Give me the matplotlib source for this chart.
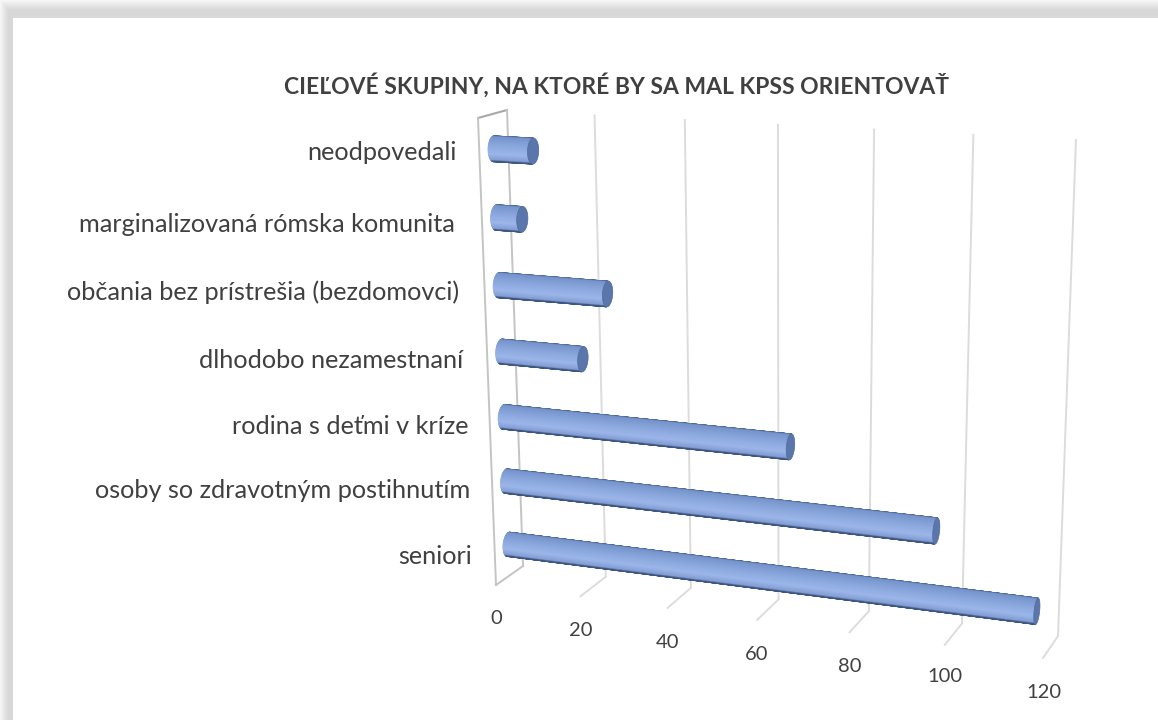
import numpy as np
import matplotlib
matplotlib.use("Agg")
import matplotlib.pyplot as plt
from matplotlib.transforms import Transform
from matplotlib.colors import LinearSegmentedColormap

categories = ["seniori", "osoby so zdravotným postihnutím", "rodina s deťmi v kríze",
              "dlhodobo nezamestnaní", "občania bez prístrešia (bezdomovci)",
              "marginalizovaná rómska komunita", "neodpovedali"]
values = [117, 96, 65, 19, 25, 6, 9]
ticks = [0, 20, 40, 60, 80, 100, 120]
title = "CIEĽOVÉ SKUPINY, NA KTORÉ BY SA MAL KPSS ORIENTOVAŤ"

plt.rcParams['font.family'] = ['Lato', 'DejaVu Sans']
W, H = 1158, 720
fig = plt.figure(figsize=(W/100, H/100), dpi=100)
ax = fig.add_axes([0, 0, 1, 1])
ax.set_xlim(0, W); ax.set_ylim(H, 0); ax.axis('off')

def homography(src, dst):
    A = []
    for (x, y), (u, v) in zip(src, dst):
        A.append([x, y, 1, 0, 0, 0, -u*x, -u*y, -u])
        A.append([0, 0, 0, x, y, 1, -v*x, -v*y, -v])
    return np.linalg.svd(np.array(A, float))[2][-1].reshape(3, 3)

VMAX = ticks[-1]
unit = [(0, 0), (VMAX, 0), (0, 1), (VMAX, 1)]
HB = homography(unit, [(523, 566), (1058, 636), (507, 110), (1076, 139)])
HF = homography(unit, [(496, 585), (1043, 658), (478, 118), (1060, 149)])

class Box(Transform):
    """(value, category height) -> pixel on a plane at a given depth (0 back, 1 front)."""
    input_dims = output_dims = 2
    def __init__(self, depth):
        super().__init__()
        self.d = depth
    def transform_non_affine(self, xy):
        xy = np.asarray(xy, float)
        p = np.c_[xy, np.ones(len(xy))]
        b = p @ HB.T; f = p @ HF.T
        b = b[:, :2]/b[:, 2:]; f = f[:, :2]/f[:, 2:]
        d = np.broadcast_to(self.d, (len(xy),)).reshape(-1, 1)
        return b*(1-d) + f*d

back, front = Box(0.0), Box(1.0)
grid = "#dcdcdc"
wall = "#c4c4c4"
for t in ticks[1:]:
    ax.plot([t, t], [1, 0], color=grid, lw=1.4, transform=back + ax.transData, solid_capstyle='butt')
    a = back.transform([[t, 0]])[0]; b = front.transform([[t, 0]])[0]
    ax.plot([a[0], b[0]], [a[1], b[1]], color=grid, lw=1.4)

# left wall
corners = np.array([front.transform([[0, 1]])[0], back.transform([[0, 1]])[0],
                    back.transform([[0, 0]])[0], front.transform([[0, 0]])[0]])
ax.plot(corners[[0, 1]][:, 0], corners[[0, 1]][:, 1], color="#a8a8a8", lw=1.5)
ax.plot(corners[[1, 2]][:, 0], corners[[1, 2]][:, 1], color=wall, lw=1.4)
ax.plot(corners[[2, 3]][:, 0], corners[[2, 3]][:, 1], color=wall, lw=1.4)
ax.plot(corners[[3, 0]][:, 0], corners[[3, 0]][:, 1], color=wall, lw=1.4)

# cylinders
cmap = LinearSegmentedColormap.from_list("cyl", [(0, "#4a6590"), (0.05, "#7694cc"), (0.35, "#89a6dc"),
                                                 (0.72, "#9cb6ea"), (0.94, "#839ed4"), (1, "#3e5680")])
n = len(categories)
RH, RD = 0.0265, 0.2
NS = 120
t2 = np.linspace(0, 2*np.pi, NS, endpoint=False)
def ring(v, h0):
    return Box(0.5 + RD*np.sin(t2)).transform(np.c_[np.full(NS, float(v)), h0 + RH*np.cos(t2)])
for i, val in enumerate(values):
    h0 = (i + 0.5)/n
    L = ring(0, h0); R = ring(val, h0)
    u = R.mean(0) - L.mean(0); u = u/np.linalg.norm(u)
    nrm = np.array([-u[1], u[0]])           # points downward on screen
    pl = (L - L.mean(0)) @ nrm; pr = (R - R.mean(0)) @ nrm
    it, ib = int(np.argmin(pl)), int(np.argmax(pl))
    # walk along the left-facing arc, from the silhouette top to the silhouette bottom
    fwd = (np.arange(it, it + NS) % NS)
    fwd = fwd[:int(np.where(fwd == ib)[0][0]) + 1]
    rev = (it - np.arange(NS)) % NS
    rev = rev[:int(np.where(rev == ib)[0][0]) + 1]
    arc = fwd if ((L[fwd] - L.mean(0)) @ u).mean() < 0 else rev
    for a, b in zip(arc[:-1], arc[1:]):
        poly = np.array([L[a], R[a], R[b], L[b]])
        f = (0.5*(pl[a] + pl[b]) - pl[it])/(pl[ib] - pl[it])
        ax.fill(poly[:, 0], poly[:, 1], color=cmap(f), lw=0.5, zorder=3)
    ax.fill(R[:, 0], R[:, 1], facecolor="#5a76aa", edgecolor="#4f6a9c", lw=0.5, zorder=4)

# labels
cat_xy = [(472, 557), (470, 491), (469, 426), (463, 360), (459, 292), (455, 225), (457, 152)]
for c, (x, y) in zip(categories, cat_xy):
    ax.text(x, y, c, ha='right', va='center', fontsize=18.2, color="#404040")
tick_xy = [(496, 618), (581, 630), (668, 642), (757, 654), (850, 666), (945, 677), (1044, 693)]
for t, (x, y) in zip(ticks, tick_xy):
    ax.text(x, y, str(t), ha='center', va='center', fontsize=14.5, color="#404040")
ax.text(616, 85, title, ha='center', va='center', fontsize=16.45, fontweight='bold', color="#404040")

# shadow band at top and left
yy, xx = np.mgrid[0:H, 0:W]
top = np.clip(0.25 + yy/12.0, 0, 1)
left = np.clip(0.25 + xx/10.0, 0, 1)
band = ((xx < 13) | (yy < 18)).astype(float)
img = np.where(band > 0, 0.155*np.minimum(top, left), 0)
rgba = np.zeros((H, W, 4)); rgba[..., 3] = img
ax.imshow(rgba, extent=(0, W, H, 0), zorder=0, aspect='auto', interpolation='nearest')
ax.set_xlim(0, W); ax.set_ylim(H, 0)
fig.savefig("out.png", dpi=100)
